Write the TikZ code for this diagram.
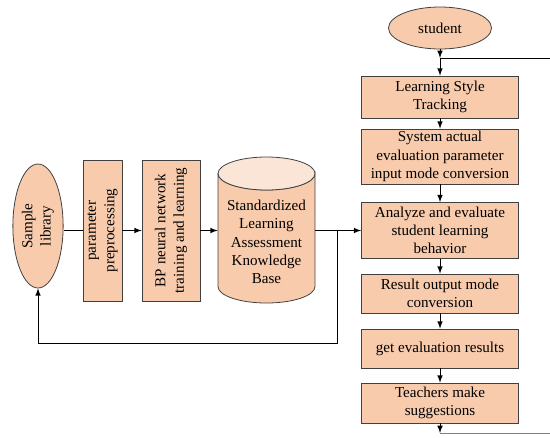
\documentclass[tikz,border=0pt]{standalone}
\usepackage{fontspec}
\setmainfont{Liberation Serif}
\usetikzlibrary{positioning}
\usetikzlibrary{shapes.geometric, arrows}
\usepackage{xcolor}

\definecolor{peach}{HTML}{F8CBAD}
\definecolor{peachtop}{HTML}{FBE5D6}
\definecolor{edgegray}{HTML}{404040}

\begin{document}
\begin{tikzpicture}[x=0.02cm, y=-0.02cm, >=latex, line width=0.45pt,
  every node/.style={draw=edgegray, fill=peach, align=center, inner sep=1pt, font=\fontsize{8.6}{10.4}\selectfont},
  flowbox/.style={rectangle, minimum width=3.14cm},
  sidebox/.style={rectangle, rotate=90, minimum width=2.82cm},
  drum/.style={x radius=0.97cm, y radius=0.33cm}]
\useasboundingbox (0,0) rectangle (550,437);

% Knowledge base drum
\filldraw[fill=peach, draw=edgegray] (218,173.5) -- (218,286.5) arc[drum, start angle=180, end angle=360]
  -- (315,173.5) arc[drum, start angle=0, end angle=-180] -- cycle;
\filldraw[fill=peachtop, draw=edgegray] (266.5,173.5) ellipse[drum];

% Nodes
\node[ellipse, minimum width=2.06cm, minimum height=0.84cm] (student) at (440,28) {student};
\node[flowbox, minimum height=0.84cm] (style) at (440,97) {Learning Style\\Tracking};
\node[flowbox, minimum height=1.1cm] (system) at (440,156.5) {System actual\\evaluation parameter\\input mode conversion};
\node[flowbox, minimum height=1.12cm] (analyze) at (440,230.5) {Analyze and evaluate\\student learning\\behavior};
\node[flowbox, minimum height=0.78cm] (output) at (440,293.5) {Result output mode\\conversion};
\node[flowbox, minimum height=0.78cm] (results) at (440,348.5) {get evaluation results};
\node[flowbox, minimum height=0.8cm] (teachers) at (440,403) {Teachers make\\suggestions};

\node[ellipse, rotate=90, minimum width=2.48cm, minimum height=1cm] (sample) at (38,226) {Sample\\library};
\node[sidebox, minimum height=0.78cm] (param) at (102.5,230.5) {parameter\\preprocessing};
\node[sidebox, minimum height=1.16cm] (bpnet) at (171,230.5) {BP neural network\\training and learning};
\node[draw=none, fill=none, minimum width=1.94cm] (kbase) at (266.5,242) {Standardized\\Learning\\Assessment\\Knowledge\\Base};

\coordinate (jtop) at (440,58);
\coordinate (rtop) at (550,58);
\coordinate (jbot) at (440,433);
\coordinate (rbot) at (550,433);
\coordinate (fb) at (337,230.5);
\coordinate (fbturn) at (337,343);

% Arrows
\draw[->] (student) -- (jtop);
\draw[->] (jtop) -- (style);
\draw (jtop) -- (rtop);
\draw[->] (style) -- (system);
\draw[->] (system) -- (analyze);
\draw[->] (analyze) -- (output);
\draw[->] (output) -- (results);
\draw[->] (results) -- (teachers);
\draw[->] (teachers) -- (jbot);
\draw[gray] (jbot) -- (rbot);

\draw (sample.south |- param) -- (param);
\draw[->] (param) -- (bpnet);
\draw[->] (bpnet) -- (bpnet -| kbase.west);
\draw[->] (kbase.east |- analyze) -- (analyze);
\draw[->] (fb) -- (fbturn) -| (sample);

\end{tikzpicture}
\end{document}
